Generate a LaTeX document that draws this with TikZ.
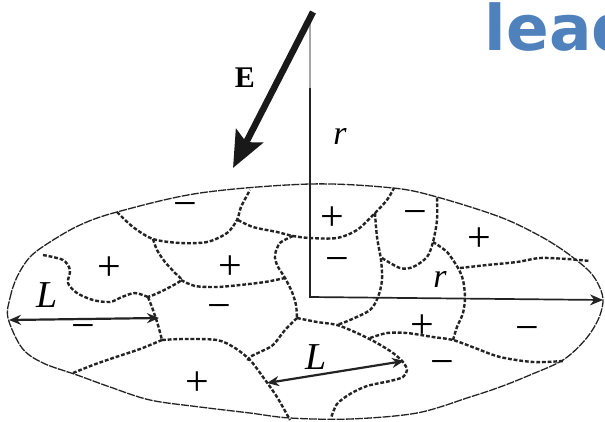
\documentclass[tikz,border=0pt]{standalone}
\usepackage{fontspec}
\setmainfont{Liberation Serif}
\newfontfamily\headfont{DejaVu Sans}
\usetikzlibrary{arrows.meta}
\definecolor{headblue}{RGB}{79,129,189}
\definecolor{inkgrey}{RGB}{35,35,35}
\tikzset{
  rim/.style={draw=inkgrey, line width=1.3pt, dash pattern=on 8pt off 1.2pt},
  wall/.style={draw=inkgrey, line width=2.4pt, dash pattern=on 3.8pt off 1.9pt},
  axisline/.style={line width=1.7pt, color=inkgrey},
  field/.style={-{Stealth[length=36pt, width=30pt, inset=7pt]}, line width=6.5pt, color=black!90},
  span/.style={{Stealth[length=12pt, width=10pt]}-{Stealth[length=12pt, width=10pt]}, line width=2.2pt, color=inkgrey},
  sign/.style={inner sep=0pt, font=\fontsize{42}{42}\selectfont},
  negsign/.style={sign, yshift=-5pt},
  sym/.style={inner sep=0pt, font=\itshape\fontsize{#1}{#1}\selectfont},
  sym/.default=34,
}

\begin{document}
\begin{tikzpicture}[x=1pt, y=-1pt]
  \useasboundingbox (0,0) rectangle (605,421);

  % slide title, cut off at the right
  \node[anchor=base west, inner sep=0pt, text=headblue, font=\headfont\bfseries\fontsize{63}{63}\selectfont] (title) at (484.6,50) {lead};

  % grain outline
  \draw[rim] plot[smooth cycle, tension=0.55] coordinates {
    (8,318) (10,298) (17,277) (30,257) (50,242) (80,225) (117,212) (200,193)
    (310,184) (393,188) (437,197) (500,217) (540,236) (567,253) (590,272)
    (600,288) (603,302) (598,320) (585,340) (563,360) (530,375) (500,387)
    (470,397) (417,413) (350,419) (290,418) (250,413) (200,407) (150,400)
    (110,387) (77,375) (43,363) (22,348)};

  % domain walls
  \draw[wall] plot[smooth] coordinates {(117,212) (133,227) (153,239) (180,243) (207,242) (227,233) (237,220) (241,207) (250,190)};
  \draw[wall] plot[smooth] coordinates {(238,220) (253,227) (277,232) (293,236) (310,238) (337,238) (357,230) (375,213) (387,200) (394,188)};
  \draw[wall] plot[smooth] coordinates {(153,239) (157,250) (165,262) (175,273) (181,280) (170,287) (158,293) (148,297)};
  \draw[wall] plot[smooth] coordinates {(181,280) (195,286) (217,287) (240,285) (265,282) (285,278)};
  \draw[wall] plot[smooth] coordinates {(293,236) (280,243) (275,255) (277,265) (285,278) (292,292) (296,305) (297,318)};
  \draw[wall] plot[smooth] coordinates {(297,318) (285,330) (273,345) (260,352) (250,357) (247,362)};
  \draw[wall] plot[smooth] coordinates {(43,255) (63,260) (70,270) (68,283) (77,293) (93,300) (110,302) (122,297) (135,293) (148,297)};
  \draw[wall] plot[smooth] coordinates {(148,297) (153,310) (158,325) (162,340)};
  \draw[wall] plot[smooth] coordinates {(162,340) (183,339) (217,340) (235,348) (250,360) (263,377) (277,397) (290,420)};
  \draw[wall] plot[smooth] coordinates {(162,340) (140,349) (113,358) (93,365) (73,373)};
  \draw[wall] plot[smooth] coordinates {(297,318) (317,322) (337,325) (357,333) (377,343) (393,353) (403,362) (407,370) (403,377) (390,381) (367,386) (350,394) (337,404) (331,418)};
  \draw[wall] plot[smooth] coordinates {(375,213) (377,237) (381,260) (382,280) (378,297) (370,310) (350,320) (337,325)};
  \draw[wall] plot[smooth] coordinates {(370,338) (387,333) (407,333) (433,337) (453,340) (475,348) (500,357) (533,362) (563,361)};
  \draw[wall] plot[smooth] coordinates {(453,340) (457,327) (463,313) (465,297) (463,280) (458,268) (447,252) (433,242)};
  \draw[wall] plot[smooth] coordinates {(382,258) (400,268) (413,267) (427,257) (433,242) (437,220) (437,197)};
  \draw[wall] plot[smooth] coordinates {(460,268) (487,265) (517,262) (540,258) (567,259) (590,261)};

  % axes and field
  \coordinate (axtop) at (310,12);
  \coordinate (axmid) at (310,88);
  \coordinate (origin) at (310,297);
  \coordinate (rend) at (603,300);
  \coordinate (etail) at (313,12);
  \coordinate (etip) at (233,168);
  \draw[axisline, color=black!35] (axtop) -- (axmid);
  \draw[axisline, -{Stealth[length=13pt, width=11pt]}] (axmid) -- (origin) -- (rend);
  \draw[field] (etail) -- (etip);
  \node[inner sep=0pt, font=\bfseries\fontsize{30}{30}\selectfont] (elab) at (245,78) {E};
  \node[sym] (rtop) at (340,136) {r};
  \node[sym] (rright) at (440,279) {r};

  % grain size arrows
  \coordinate (lleft) at (9,320);
  \coordinate (lright) at (159,318);
  \coordinate (bleft) at (267,383);
  \coordinate (bright) at (404,361);
  \draw[span] (lleft) -- (lright);
  \draw[span] (bleft) -- (bright);
  \node[sym=38] (llab) at (47,295) {L};
  \node[sym=38] (blab) at (316,357) {L};

  % polarisation signs
  \node[negsign] (neg1) at (185,205) {−};
  \node[sign] (pos1) at (109,269) {+};
  \node[sign] (pos2) at (230,268) {+};
  \node[negsign] (neg2) at (219,307) {−};
  \node[negsign] (neg3) at (83,327) {−};
  \node[sign] (pos3) at (197,384) {+};
  \node[sign] (pos4) at (332,219) {+};
  \node[negsign] (neg4) at (415,213) {−};
  \node[sign] (pos5) at (479,240) {+};
  \node[negsign] (neg5) at (337,260) {−};
  \node[sign] (pos6) at (422,327) {+};
  \node[negsign] (neg6) at (527,329) {−};
  \node[negsign] (neg7) at (442,363) {−};
\end{tikzpicture}
\end{document}
